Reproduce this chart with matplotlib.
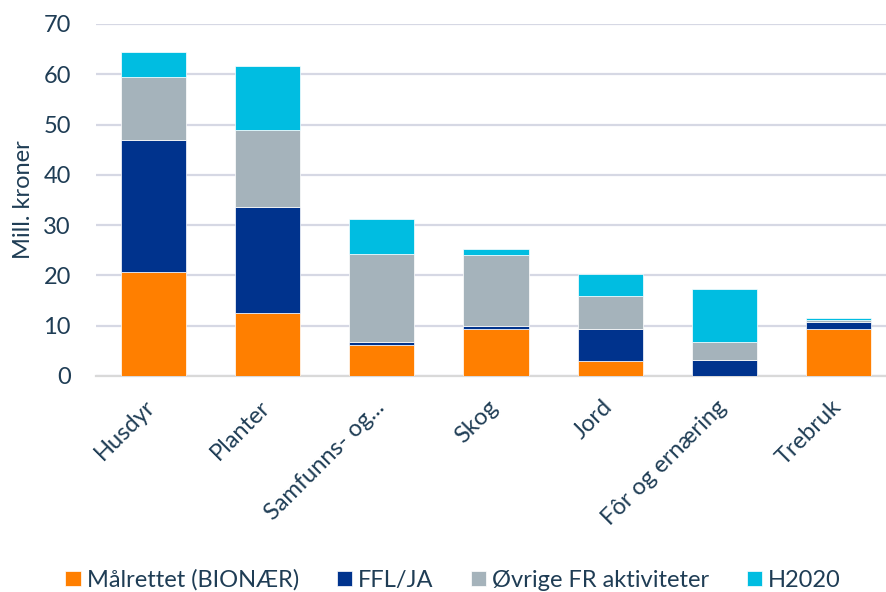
import matplotlib
matplotlib.use('Agg')
import numpy as np
import matplotlib.pyplot as plt
from matplotlib.transforms import ScaledTranslation

# Categories and series (Mill. kroner)
categories = ['Husdyr', 'Planter', 'Samfunns- og...', 'Skog', 'Jord', 'Fôr og ernæring', 'Trebruk']
malrettet = [20.6, 12.5, 6.2, 9.4, 3.0, 0.0, 9.4]
ffl_ja = [26.3, 21.2, 0.6, 0.5, 6.4, 3.1, 1.4]
ovrige = [12.6, 15.3, 17.5, 14.1, 6.5, 3.6, 0.3]
h2020 = [4.9, 12.6, 7.0, 1.2, 4.4, 10.7, 0.5]
series_names = ['Målrettet (BIONÆR)', 'FFL/JA', 'Øvrige FR aktiviteter', 'H2020']
colors = ['#FF7F00', '#00338D', '#A5B3BB', '#00BDE1']
yticks = [0, 10, 20, 30, 40, 50, 60, 70]

text_col = '#1F3D55'
grid_col = '#D6D8E4'
fs = 17

plt.rcParams['font.family'] = ['Lato', 'DejaVu Sans']

fig = plt.figure(figsize=(8.86, 5.92), dpi=100)
ax = fig.add_axes([96 / 886, 216 / 592, 800 / 886, 352 / 592])

x = np.arange(len(categories))
bottom = np.zeros(len(categories))
for vals, name, col in zip([malrettet, ffl_ja, ovrige, h2020], series_names, colors):
    ax.bar(x, vals, width=0.57, bottom=bottom, color=col, label=name,
           edgecolor='white', linewidth=0.5, zorder=3)
    bottom += np.array(vals)

ax.set_xlim(-0.5, len(categories) - 0.5)
ax.set_ylim(0, 70)
ax.set_yticks(yticks)
ax.yaxis.grid(True, color=grid_col, linewidth=1.6, zorder=0)
for s in ['left', 'right', 'top']:
    ax.spines[s].set_visible(False)
ax.spines['bottom'].set_color('#D9D9D9')
ax.spines['bottom'].set_linewidth(1.6)
ax.tick_params(axis='both', length=0, labelsize=fs, colors=text_col)
ax.tick_params(axis='y', pad=18)

# rotated category labels, right end placed just under each bar
ax.set_xticks(x)
ax.set_xticklabels(categories, rotation=45, ha='right', va='center', rotation_mode='anchor')
offset = ScaledTranslation(-1 / 100, -23 / 100, fig.dpi_scale_trans)
for lbl in ax.get_xticklabels():
    lbl.set_transform(lbl.get_transform() + offset)

ax.set_ylabel('Mill. kroner', fontsize=fs, color=text_col)
ax.yaxis.set_label_coords(-0.078, 0.5)

fig.legend(loc='center', bbox_to_anchor=(453 / 886, 1 - 580 / 592), ncol=4,
           frameon=False, fontsize=fs, handlelength=0.64, handleheight=0.64,
           handletextpad=0.25, columnspacing=1.6, labelcolor=text_col)

fig.savefig('out.png', dpi=100)
